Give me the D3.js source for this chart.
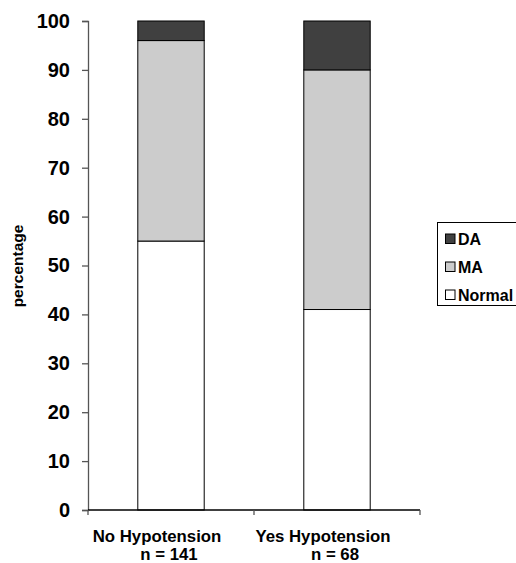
<!DOCTYPE html>
<html>
<head>
<meta charset="utf-8">
<script src="https://cdn.jsdelivr.net/npm/d3@7"></script>
<style>
  html, body { margin: 0; padding: 0; background: #fff; }
  svg { display: block; font-family: Arial, "Liberation Sans", sans-serif; font-weight: bold; }
</style>
</head>
<body>
<svg id="chart" width="516" height="563"></svg>
<script>
const categories = ["No Hypotension", "Yes Hypotension"];
const categoryN = ["n = 141", "n = 68"];
const seriesNames = ["Normal", "MA", "DA"];
const normalValues = [55, 41];
const maValues = [41, 49];
const daValues = [4, 10];
const yTicks = [0, 10, 20, 30, 40, 50, 60, 70, 80, 90, 100];
const colors = { Normal: "#ffffff", MA: "#cccccc", DA: "#404040" };

const rows = categories.map((c, i) => ({ cat: c, Normal: normalValues[i], MA: maValues[i], DA: daValues[i] }));
const stacked = d3.stack().keys(seriesNames)(rows);

const svg = d3.select("#chart");
const x = d3.scaleBand().domain(categories).range([88, 420]).paddingInner(0.6).paddingOuter(0.3);
const y = d3.scaleLinear().domain([0, 100]).range([510, 21]);

// bars
svg.append("g").selectAll("g").data(stacked).join("g")
  .attr("fill", d => colors[d.key])
  .selectAll("rect").data(d => d).join("rect")
  .attr("x", d => x(d.data.cat))
  .attr("width", x.bandwidth())
  .attr("y", d => y(d[1]))
  .attr("height", d => y(d[0]) - y(d[1]))
  .attr("stroke", "#000").attr("stroke-width", 1);

// y axis
const yAxis = svg.append("g").attr("transform", "translate(88,0)")
  .call(d3.axisLeft(y).tickValues(yTicks).tickSize(6).tickPadding(12));
yAxis.select(".domain").attr("stroke", "#555").attr("stroke-width", 1.3);
yAxis.selectAll(".tick line").attr("stroke", "#555").attr("stroke-width", 1.3);
yAxis.selectAll(".tick text").attr("font-size", "20px").attr("font-weight", "bold")
  .attr("font-family", "Arial, 'Liberation Sans', sans-serif").attr("fill", "#000");

// x axis
const step = x.step();
const bounds = [x.range()[0], x.range()[0] + step, x.range()[1]];
const xg = svg.append("g");
xg.append("line").attr("x1", x.range()[0]).attr("x2", x.range()[1]).attr("y1", y(0)).attr("y2", y(0))
  .attr("stroke", "#000").attr("stroke-width", 1.3);
xg.selectAll("line.tk").data(bounds).join("line").attr("class", "tk")
  .attr("x1", d => d).attr("x2", d => d).attr("y1", y(0)).attr("y2", y(0) + 5)
  .attr("stroke", "#555").attr("stroke-width", 1.3);

categories.forEach((c, i) => {
  const cx = x(c) + x.bandwidth() / 2;
  xg.append("text").attr("x", cx - 14).attr("y", 542).attr("text-anchor", "middle")
    .attr("font-size", "16.8px").text(c);
  xg.append("text").attr("x", cx - 2).attr("y", 560).attr("text-anchor", "middle")
    .attr("font-size", "16.8px").text(categoryN[i]);
});

// y label
svg.append("text").attr("transform", "translate(23,266) rotate(-90)").attr("text-anchor", "middle")
  .attr("font-size", "15.5px").text("percentage");

// legend
const lg = svg.append("g");
lg.append("rect").attr("x", 437.5).attr("y", 222.5).attr("width", 100).attr("height", 83)
  .attr("fill", "#fff").attr("stroke", "#000").attr("stroke-width", 1);
const legendOrder = ["DA", "MA", "Normal"];
legendOrder.forEach((k, i) => {
  const cy = 239 + i * 28;
  lg.append("rect").attr("x", 445.5).attr("y", cy - 5).attr("width", 9.5).attr("height", 9.5)
    .attr("fill", colors[k]).attr("stroke", "#000").attr("stroke-width", 1);
  lg.append("text").attr("x", 458).attr("y", cy + 6).attr("font-size", "16px").text(k);
});
</script>
</body>
</html>
